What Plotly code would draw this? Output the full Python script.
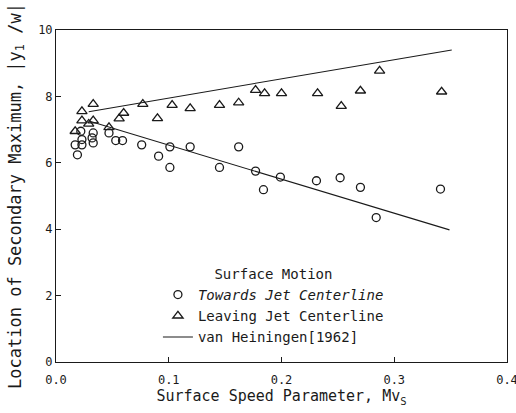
import plotly.graph_objects as go

# Data
towards_x = [0.017, 0.019, 0.022, 0.023, 0.023, 0.032, 0.033, 0.033, 0.047, 0.053, 0.059, 0.076, 0.091,
             0.101, 0.101, 0.119, 0.145, 0.162, 0.177, 0.184, 0.199, 0.231, 0.252, 0.270, 0.284, 0.341]
towards_y = [6.54, 6.24, 6.95, 6.70, 6.54, 6.75, 6.90, 6.60, 6.90, 6.67, 6.67, 6.54, 6.20,
             6.48, 5.86, 6.48, 5.86, 6.48, 5.75, 5.19, 5.57, 5.46, 5.55, 5.26, 4.35, 5.21]

leaving_x = [0.017, 0.023, 0.023, 0.029, 0.033, 0.033, 0.047, 0.056, 0.060, 0.077, 0.090, 0.103,
             0.119, 0.145, 0.162, 0.177, 0.185, 0.200, 0.232, 0.253, 0.270, 0.287, 0.342]
leaving_y = [6.95, 7.55, 7.27, 7.17, 7.77, 7.27, 7.07, 7.33, 7.50, 7.77, 7.34, 7.74,
             7.64, 7.74, 7.81, 8.19, 8.09, 8.09, 8.09, 7.71, 8.17, 8.77, 8.14]

# van Heiningen [1962] curves (upper and lower)
vh_upper_x = [0.029, 0.351]
vh_upper_y = [7.54, 9.40]
vh_lower_x = [0.030, 0.349]
vh_lower_y = [7.25, 3.98]

x_ticks = [0.0, 0.1, 0.2, 0.3, 0.4]
x_tick_labels = ["0.0", "0.1", "0.2", "0.3", "0.4"]
y_ticks = [0, 2, 4, 6, 8, 10]

FONT = "DejaVu Sans Mono"
INK = "#1a1a1a"

fig = go.Figure()

fig.add_trace(go.Scatter(
    x=towards_x, y=towards_y, mode="markers",
    name="<i>Towards Jet Centerline</i>",
    marker=dict(symbol="circle-open", size=8, color=INK, line=dict(width=1.3, color=INK)),
))
fig.add_trace(go.Scatter(
    x=leaving_x, y=leaving_y, mode="markers",
    name="Leaving Jet Centerline",
    marker=dict(symbol="triangle-up-open", size=9, color=INK, line=dict(width=1.3, color=INK)),
))
fig.add_trace(go.Scatter(
    x=vh_upper_x + [None] + vh_lower_x,
    y=vh_upper_y + [None] + vh_lower_y,
    mode="lines", name="van Heiningen[1962]",
    line=dict(color=INK, width=1.1),
    connectgaps=False,
))

fig.update_layout(
    width=516, height=413,
    margin=dict(l=56, r=9, t=30, b=51),
    paper_bgcolor="white", plot_bgcolor="white",
    font=dict(family=FONT, color=INK, size=13),
    showlegend=True,
    legend=dict(
        x=0.226, y=0.305, xanchor="left", yanchor="top",
        bgcolor="rgba(0,0,0,0)",
        font=dict(family=FONT, size=14, color=INK),
        title=dict(text="Surface Motion", side="top center",
                   font=dict(family=FONT, size=14, color=INK)),
        tracegroupgap=0,
        itemwidth=30,
    ),
    xaxis=dict(
        range=[0, 0.4], tickvals=x_ticks, ticktext=x_tick_labels,
        ticks="inside", ticklen=5, tickcolor=INK,
        showline=True, linecolor=INK, linewidth=1, mirror=True,
        showgrid=False, zeroline=False,
        tickfont=dict(family=FONT, size=12),
        ticklabelstandoff=7,
        ticklabeloverflow="allow",
        automargin=False,
        title=dict(text="Surface Speed Parameter, Mv<sub>S</sub>",
                   font=dict(family=FONT, size=15), standoff=4),
    ),
    yaxis=dict(
        range=[0, 10], tickvals=y_ticks,
        ticks="inside", ticklen=5, tickcolor=INK,
        showline=True, linecolor=INK, linewidth=1, mirror=True,
        showgrid=False, zeroline=False,
        tickfont=dict(family=FONT, size=12),
        title=dict(text="Location of Secondary Maximum, |y<sub>1</sub> /w|",
                   font=dict(family=FONT, size=17), standoff=12),
    ),
)

fig.write_html("out.html")
